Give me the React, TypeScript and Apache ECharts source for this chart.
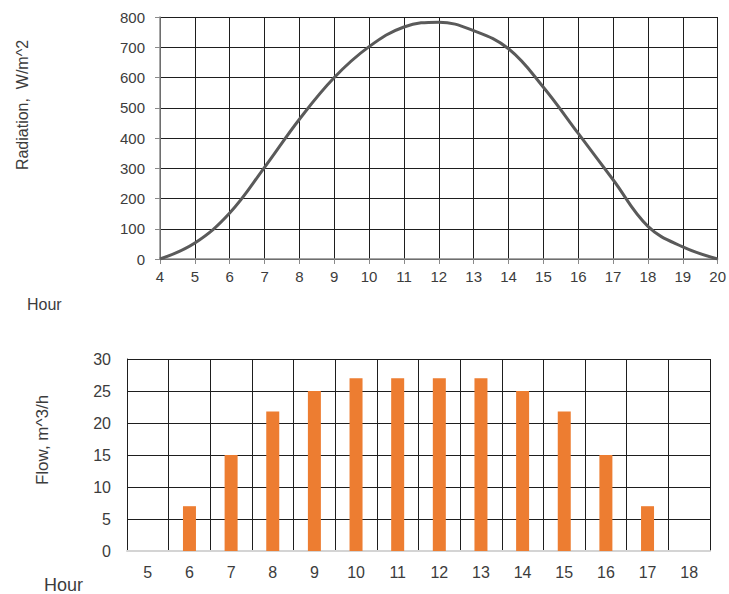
import React, { useEffect, useRef } from "react";
import * as echarts from "echarts";

const radiationHours = [4, 5, 6, 7, 8, 9, 10, 11, 12, 13, 14, 15, 16, 17, 18, 19, 20];
const radiationValues = [0, 53, 152, 303, 462, 600, 702, 767, 783, 755, 695, 568, 415, 262, 108, 40, 0];

const flowHours = ["5", "6", "7", "8", "9", "10", "11", "12", "13", "14", "15", "16", "17", "18"];
const flowValues = [0, 7, 15, 21.8, 25, 27, 27, 27, 27, 25, 21.8, 15, 7, 0];

const radiationTitle = "Radiation,  W/m^2";
const flowTitle = "Flow, m^3/h";
const hourTitle = "Hour";

const FONT = "'Liberation Sans', Arial, sans-serif";
const TEXT = "#3c3c3c";
const GRID = "#1e1e1e";

export default function App() {
  const ref = useRef<HTMLDivElement>(null);
  useEffect(() => {
    if (!ref.current) return;
    const chart = echarts.init(ref.current, undefined, { renderer: "svg" });
    chart.setOption({
      animation: false,
      backgroundColor: "#ffffff",
      textStyle: { fontFamily: FONT },
      grid: [
        { left: 160, top: 17, right: 8, bottom: 335, containLabel: false },
        { left: 127, top: 359, right: 19, bottom: 43, containLabel: false },
      ],
      xAxis: [
        {
          type: "value",
          gridIndex: 0,
          min: 4,
          max: 20,
          interval: 1,
          axisLine: { show: true, lineStyle: { color: "#8a8a8a", width: 1.5 } },
          axisTick: { show: true, length: 5, lineStyle: { color: "#8a8a8a" } },
          splitLine: { show: true, lineStyle: { color: GRID, width: 1 } },
          axisLabel: { fontSize: 15, color: TEXT, margin: 10, fontFamily: FONT },
        },
        {
          type: "category",
          gridIndex: 1,
          data: flowHours,
          boundaryGap: true,
          axisLine: { show: true, lineStyle: { color: "#d4d4d4", width: 2 } },
          axisTick: { show: false },
          splitLine: { show: true, lineStyle: { color: GRID, width: 1 } },
          axisLabel: { fontSize: 16, color: TEXT, margin: 13, fontFamily: FONT },
        },
      ],
      yAxis: [
        {
          type: "value",
          gridIndex: 0,
          min: 0,
          max: 800,
          interval: 100,
          axisLine: { show: true, lineStyle: { color: "#8a8a8a", width: 1.5 } },
          axisTick: { show: true, length: 5, lineStyle: { color: "#8a8a8a" } },
          splitLine: { show: true, lineStyle: { color: GRID, width: 1 } },
          axisLabel: { fontSize: 15, color: TEXT, margin: 15, fontFamily: FONT },
        },
        {
          type: "value",
          gridIndex: 1,
          min: 0,
          max: 30,
          interval: 5,
          axisLine: { show: true, lineStyle: { color: GRID, width: 1 } },
          axisTick: { show: false },
          splitLine: { show: true, lineStyle: { color: GRID, width: 1 } },
          axisLabel: { fontSize: 16, color: TEXT, margin: 16, fontFamily: FONT },
        },
      ],
      series: [
        {
          type: "line",
          xAxisIndex: 0,
          yAxisIndex: 0,
          data: radiationHours.map((h, i) => [h, radiationValues[i]]),
          smooth: 0.4,
          showSymbol: false,
          lineStyle: { color: "#5a5a5a", width: 3 },
        },
        {
          type: "bar",
          xAxisIndex: 1,
          yAxisIndex: 1,
          data: flowValues,
          barWidth: 13,
          itemStyle: { color: "#ed7d31" },
        },
      ],
      graphic: [
        {
          type: "text",
          x: 22,
          y: 105,
          rotation: Math.PI / 2,
          style: {
            text: radiationTitle,
            fontSize: 16,
            fontFamily: FONT,
            fill: TEXT,
            align: "center",
            verticalAlign: "middle",
          },
        },
        {
          type: "text",
          x: 27,
          y: 304,
          style: {
            text: hourTitle,
            fontSize: 16,
            fontFamily: FONT,
            fill: TEXT,
            align: "left",
            verticalAlign: "middle",
          },
        },
        {
          type: "text",
          x: 42,
          y: 440,
          rotation: Math.PI / 2,
          style: {
            text: flowTitle,
            fontSize: 17,
            fontFamily: FONT,
            fill: TEXT,
            align: "center",
            verticalAlign: "middle",
          },
        },
        {
          type: "text",
          x: 44,
          y: 585,
          style: {
            text: hourTitle,
            fontSize: 18,
            fontFamily: FONT,
            fill: TEXT,
            align: "left",
            verticalAlign: "middle",
          },
        },
      ],
    });
    return () => chart.dispose();
  }, []);
  return (
    <div
      ref={ref}
      style={{ position: "fixed", left: 0, top: 0, width: 729, height: 594, background: "#fff" }}
    />
  );
}
